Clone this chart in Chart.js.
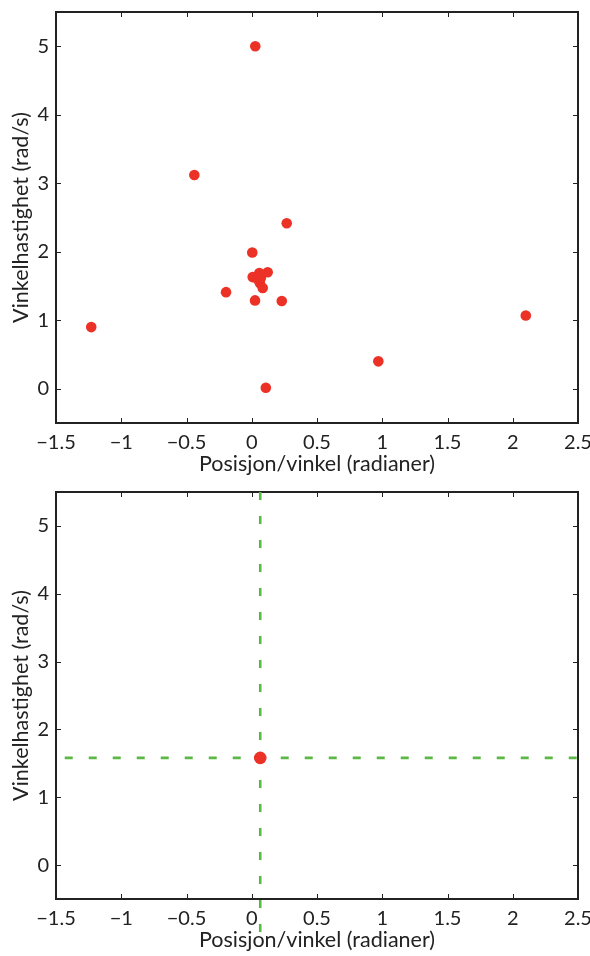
<!DOCTYPE html>
<html>
<head>
<meta charset="utf-8">
<script src="https://cdn.jsdelivr.net/npm/chart.js@4.4.1/dist/chart.umd.min.js"></script>
<style>
  html, body { margin: 0; padding: 0; background: #fff; }
  #wrap { position: relative; width: 590px; height: 956px; }
  canvas { position: absolute; left: 0; }
  #phaseTop { top: 0; }
  #phaseBottom { top: 480px; }
</style>
</head>
<body>
<div id="wrap">
  <canvas id="phaseTop" width="590" height="480"></canvas>
  <canvas id="phaseBottom" width="590" height="476"></canvas>
</div>
<script>
// Målinger: posisjon/vinkel (rad) og vinkelhastighet (rad/s)
const posisjon = [0.027, -0.44, 0.268, 0.004, 0.122, 0.058, 0.007, 0.063, 0.084, 0.045, 0.07, -0.197, 0.025, 0.23, -1.23, 2.10, 0.97, 0.108];
const hastighet = [5.0, 3.12, 2.415, 1.99, 1.70, 1.69, 1.63, 1.54, 1.47, 1.60, 1.62, 1.41, 1.29, 1.28, 0.90, 1.07, 0.40, 0.015];

// Middelverdi (nederste figur)
const middelPos = [0.065];
const middelHast = [1.58];

// Hjelpelinjer gjennom middelverdien
const vertLinjeY = [5.5, -1.2];
const horisLinjeX = [-1.433, 2.55];

const xTicks = [-1.5, -1, -0.5, 0, 0.5, 1, 1.5, 2, 2.5];
const yTicks = [0, 1, 2, 3, 4, 5];

const FONT = 'Lato, "Open Sans", sans-serif';
const RED = '#ec3126';
const GREEN = '#5cb845';
const INK = '#222222';

function fmt(v) {
    return String(v).replace('-', '\u2212');
}

// MATLAB-aktig ramme med innovervendte tick-merker på alle fire sider
const boxPlugin = {
    id: 'boxTicks',
    beforeDatasetsDraw(chart) {
        const { ctx, chartArea: a, scales: { x, y } } = chart;
        ctx.save();
        ctx.strokeStyle = INK;
        ctx.lineWidth = 1;
        const len = 5;
        ctx.beginPath();
        xTicks.forEach(v => {
            const px = Math.round(x.getPixelForValue(v)) + 0.5;
            ctx.moveTo(px, a.bottom); ctx.lineTo(px, a.bottom - len);
            ctx.moveTo(px, a.top); ctx.lineTo(px, a.top + len);
        });
        yTicks.forEach(v => {
            const py = Math.round(y.getPixelForValue(v)) + 0.5;
            ctx.moveTo(a.left, py); ctx.lineTo(a.left + len, py);
            ctx.moveTo(a.right, py); ctx.lineTo(a.right - len, py);
        });
        ctx.stroke();
        ctx.lineWidth = 2;
        ctx.strokeRect(a.left, a.top, a.right - a.left, a.bottom - a.top);
        ctx.restore();
    }
};

// Skalaene skal ikke reservere ekstra plass for tick-tekst i kantene
function noEdgePadding(s) {
    s.paddingLeft = 0;
    s.paddingRight = 0;
    s.paddingTop = 0;
    s.paddingBottom = 0;
}

function makeOptions() {
    return {
        responsive: false,
        animation: false,
        events: [],
        layout: { padding: { top: 12, right: 12, left: 0, bottom: 0 } },
        plugins: { legend: { display: false }, tooltip: { enabled: false } },
        scales: {
            x: {
                type: 'linear',
                min: -1.5,
                max: 2.5,
                grid: { display: false, drawTicks: false },
                border: { display: false },
                afterBuildTicks: s => { s.ticks = xTicks.map(v => ({ value: v })); },
                afterFit: s => { s.height = 57; noEdgePadding(s); },
                ticks: {
                    padding: 8,
                    color: INK,
                    font: { family: FONT, size: 20 },
                    maxRotation: 0,
                    autoSkip: false,
                    callback: v => fmt(v)
                },
                title: {
                    display: true,
                    text: 'Posisjon/vinkel (radianer)',
                    color: INK,
                    font: { family: FONT, size: 21.5 },
                    padding: { top: 0, bottom: 3 }
                }
            },
            y: {
                type: 'linear',
                min: -0.5,
                max: 5.5,
                grid: { display: false, drawTicks: false },
                border: { display: false },
                afterBuildTicks: s => { s.ticks = yTicks.map(v => ({ value: v })); },
                afterFit: s => { s.width = 56; noEdgePadding(s); },
                ticks: {
                    padding: 7,
                    color: INK,
                    font: { family: FONT, size: 20 },
                    autoSkip: false,
                    callback: v => fmt(v)
                },
                title: {
                    display: true,
                    text: 'Vinkelhastighet (rad/s)',
                    color: INK,
                    font: { family: FONT, size: 21.5 },
                    padding: { top: 8, bottom: 0 }
                }
            }
        }
    };
}

function pts(xs, ys) {
    return xs.map((v, i) => ({ x: v, y: ys[i] }));
}

// Øverste figur: alle målinger
new Chart(document.getElementById('phaseTop'), {
    type: 'scatter',
    data: {
        datasets: [{
            data: pts(posisjon, hastighet),
            pointRadius: 5.3,
            pointBackgroundColor: RED,
            pointBorderWidth: 0
        }]
    },
    options: makeOptions(),
    plugins: [boxPlugin]
});

// Nederste figur: middelverdi med stiplede hjelpelinjer
new Chart(document.getElementById('phaseBottom'), {
    type: 'scatter',
    data: {
        datasets: [
            {
                type: 'line',
                data: pts(horisLinjeX, [middelHast[0], middelHast[0]]),
                borderColor: GREEN,
                borderWidth: 2.6,
                borderDash: [8, 16],
                pointRadius: 0,
                clip: false,
                order: 2
            },
            {
                type: 'line',
                data: pts([middelPos[0], middelPos[0]], vertLinjeY),
                borderColor: GREEN,
                borderWidth: 2.6,
                borderDash: [8, 16],
                pointRadius: 0,
                clip: false,
                order: 2
            },
            {
                data: pts(middelPos, middelHast),
                pointRadius: 6.3,
                pointBackgroundColor: RED,
                pointBorderWidth: 0,
                order: 1
            }
        ]
    },
    options: makeOptions(),
    plugins: [boxPlugin]
});
</script>
</body>
</html>
